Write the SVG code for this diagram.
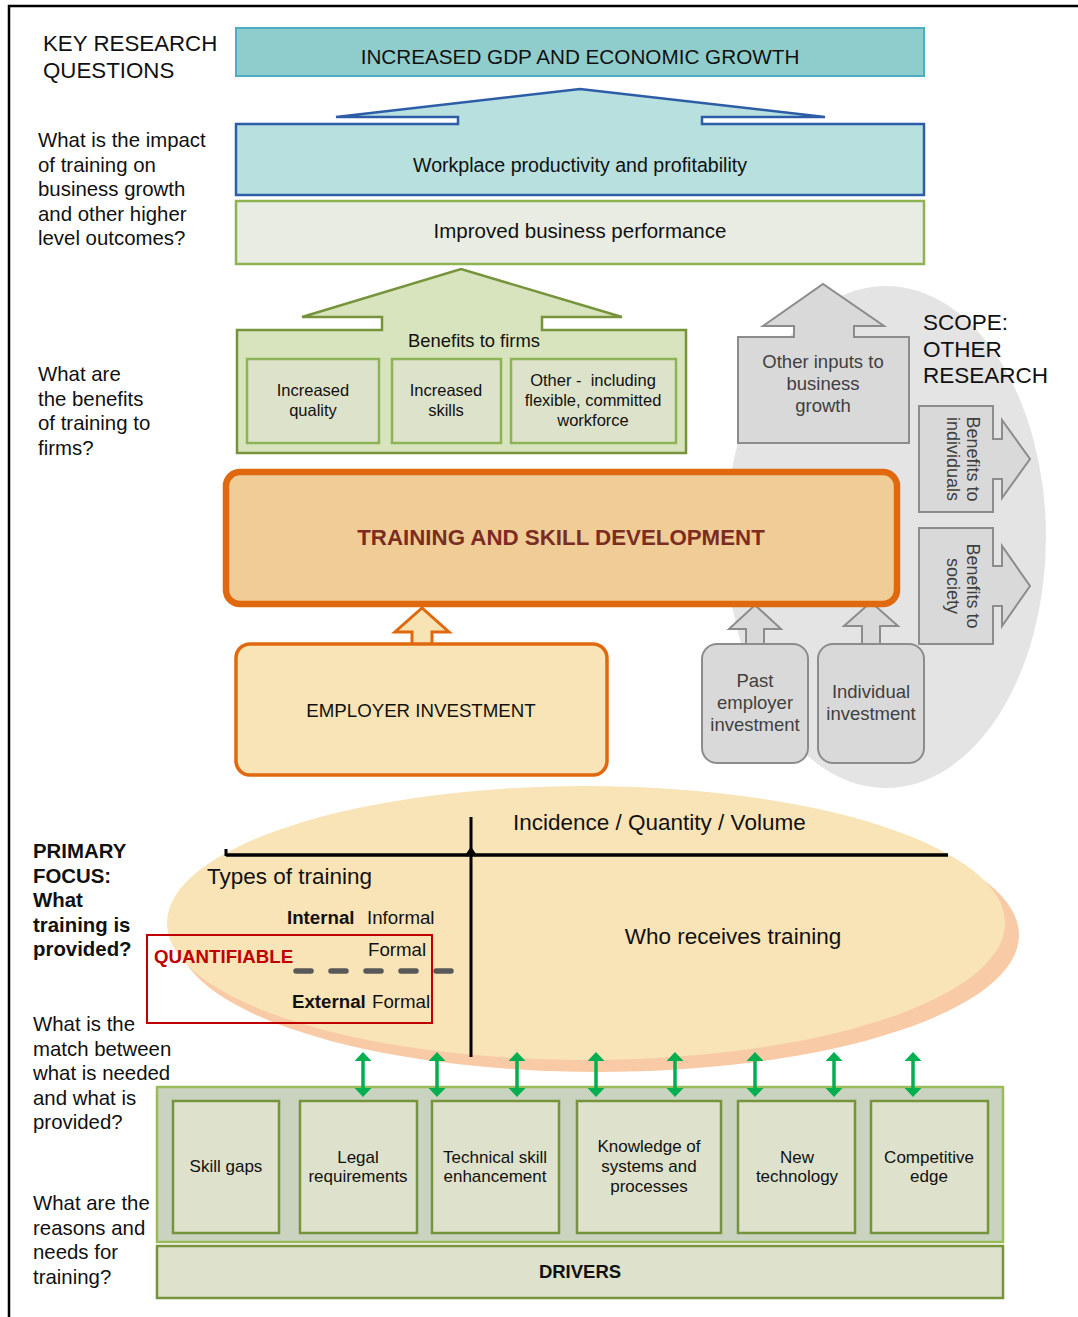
<svg xmlns="http://www.w3.org/2000/svg" width="1078" height="1317" viewBox="0 0 1078 1317">
  <defs>
    <style>
      text { font-family: "Liberation Sans", Arial, Helvetica, sans-serif; fill: #111; }
      .c { text-anchor: middle; }
      .b { font-weight: bold; }
      .q { font-size: 20.4px; }
      .h22 { font-size: 22.5px; }
      .t18 { font-size: 18.5px; }
      .t17 { font-size: 17px; }
      .t16 { font-size: 16.5px; }
      .t187 { font-size: 18.7px; }
      .gtxt { fill: #404040; }
      .greyShape { fill: #D9D9D9; stroke: #8C8C8C; stroke-width: 2; stroke-linejoin: miter; }
      .benefitBox { fill: #DDE2CB; stroke: #8DB356; stroke-width: 2.5; }
      .driverBox { fill: #DEE2CC; stroke: #77933C; stroke-width: 2.5; }
      .link { stroke: #00B050; stroke-width: 3.5; fill: none; marker-start: url(#greenHead); marker-end: url(#greenHead); }
    </style>
    <marker id="greenHead" viewBox="0 0 9 17" refX="0" refY="8.5" markerWidth="9" markerHeight="17" markerUnits="userSpaceOnUse" orient="auto-start-reverse">
      <path d="M0,0 L9,8.5 L0,17 Z" fill="#00B050"/>
    </marker>
  </defs>

  <rect x="0" y="0" width="1078" height="1317" fill="#FFFFFF"/>
  <!-- frame lines -->
  <path d="M9,1317 V6 H1078" fill="none" stroke="#000" stroke-width="2.5"/>

  <!-- left column: key research questions -->
  <g id="questions">
    <text x="43" y="51" style="font-size:22.3px">KEY RESEARCH</text>
    <text x="43" y="78" style="font-size:22.3px">QUESTIONS</text>
    <text class="q" x="38" y="147">What is the impact</text>
    <text class="q" x="38" y="171.5">of training on</text>
    <text class="q" x="38" y="196">business growth</text>
    <text class="q" x="38" y="220.5">and other higher</text>
    <text class="q" x="38" y="245">level outcomes?</text>
    <text class="q" x="38" y="381">What are</text>
    <text class="q" x="38" y="405.5">the benefits</text>
    <text class="q" x="38" y="430">of training to</text>
    <text class="q" x="38" y="454.5">firms?</text>
    <text class="q b" x="33" y="858">PRIMARY</text>
    <text class="q b" x="33" y="882.5">FOCUS:</text>
    <text class="q b" x="33" y="907">What</text>
    <text class="q b" x="33" y="931.5">training is</text>
    <text class="q b" x="33" y="956">provided?</text>
    <text class="q" x="33" y="1031">What is the</text>
    <text class="q" x="33" y="1055.5">match between</text>
    <text class="q" x="33" y="1080">what is needed</text>
    <text class="q" x="33" y="1104.5">and what is</text>
    <text class="q" x="33" y="1129">provided?</text>
    <text class="q" x="33" y="1210">What are the</text>
    <text class="q" x="33" y="1234.5">reasons and</text>
    <text class="q" x="33" y="1259">needs for</text>
    <text class="q" x="33" y="1283.5">training?</text>
  </g>

  <!-- outcome stack -->
  <g id="gdp">
    <rect x="236" y="28" width="688" height="48" fill="#8FCDCC" stroke="#4BACC6" stroke-width="2"/>
    <text class="c" x="580" y="64" style="font-size:20.7px">INCREASED GDP AND ECONOMIC GROWTH</text>
  </g>
  <g id="productivity">
    <path d="M236,124 H458 V117 H336 L580,89 L825,117 H702 V124 H924 V195 H236 Z" fill="#B7E0DF" stroke="#2E5DA8" stroke-width="2.5"/>
    <text class="c" x="580" y="172" style="font-size:19.6px">Workplace productivity and profitability</text>
  </g>
  <g id="performance">
    <rect x="236" y="201" width="688" height="63" fill="#E9ECE2" stroke="#8DB354" stroke-width="2.5"/>
    <text class="c" x="580" y="238" style="font-size:20.5px">Improved business performance</text>
  </g>

  <!-- benefits to firms -->
  <g id="benefits-firms">
    <path d="M237,330 H382 V317 H302 L461,269 L622,317 H542 V330 H686 V453 H237 Z" fill="#D7E4BD" stroke="#77933C" stroke-width="2.5"/>
    <text class="c" x="474" y="347" style="font-size:18.4px">Benefits to firms</text>
  </g>
  <g id="benefit-quality">
    <rect class="benefitBox" x="247" y="359" width="132" height="84"/>
    <text class="c t16" x="313" y="396">Increased</text>
    <text class="c t16" x="313" y="416">quality</text>
  </g>
  <g id="benefit-skills">
    <rect class="benefitBox" x="392" y="359" width="109" height="84"/>
    <text class="c t16" x="446" y="396">Increased</text>
    <text class="c t16" x="446" y="416">skills</text>
  </g>
  <g id="benefit-other">
    <rect class="benefitBox" x="511" y="359" width="165" height="84"/>
    <text class="c t16" x="593" y="386">Other - &#160;including</text>
    <text class="c t16" x="593" y="406">flexible, committed</text>
    <text class="c t16" x="593" y="426">workforce</text>
  </g>

  <!-- scope: other research -->
  <g id="scope">
    <ellipse cx="886" cy="537" rx="160" ry="251" fill="#E4E4E4"/>
    <text class="h22" x="923" y="330">SCOPE:</text>
    <text class="h22" x="923" y="357">OTHER</text>
    <text class="h22" x="923" y="383">RESEARCH</text>
  </g>
  <g id="other-inputs">
    <path class="greyShape" d="M738,337 H794 V326 H763 L823,284 L884,326 H854 V337 H909 V443 H738 Z"/>
    <text class="c t18 gtxt" x="823" y="368">Other inputs to</text>
    <text class="c t18 gtxt" x="823" y="390">business</text>
    <text class="c t18 gtxt" x="823" y="412">growth</text>
  </g>
  <g id="benefits-individuals">
    <path class="greyShape" d="M919,406 H993 V439 H1002 V420 L1030,459 L1002,498 V479 H993 V512 H919 Z"/>
    <g transform="translate(961,459) rotate(90)">
      <text class="c gtxt" x="0" y="-6" style="font-size:18px">Benefits to</text>
      <text class="c gtxt" x="0" y="14" style="font-size:18px">individuals</text>
    </g>
  </g>
  <g id="benefits-society">
    <path class="greyShape" d="M919,528 H993 V566 H1002 V546 L1030,586 L1002,626 V606 H993 V644 H919 Z"/>
    <g transform="translate(961,586) rotate(90)">
      <text class="c gtxt" x="0" y="-6" style="font-size:18px">Benefits to</text>
      <text class="c gtxt" x="0" y="14" style="font-size:18px">society</text>
    </g>
  </g>

  <!-- inputs feeding training -->
  <g id="input-arrows">
    <path class="greyShape" d="M746,645 V629 H729 L755,605 L781,629 H764 V645 Z"/>
    <path class="greyShape" d="M862,645 V626 H844 L871,602 L898,626 H880 V645 Z"/>
    <path d="M412,645 V632 H395 L422,608 L449,632 H432 V645 Z" fill="#F8E3B5" stroke="#E0690F" stroke-width="3"/>
  </g>

  <g id="training">
    <rect x="226" y="472" width="671" height="132" rx="14" fill="#F0CD96" stroke="#E0690F" stroke-width="6.5"/>
    <text class="c b" x="561" y="545" style="font-size:22.3px; fill:#7B2C23">TRAINING AND SKILL DEVELOPMENT</text>
  </g>
  <g id="employer-investment">
    <rect x="236" y="644" width="371" height="131" rx="14" fill="#F8E4B6" stroke="#E0690F" stroke-width="3.5"/>
    <text class="c" x="421" y="717" style="font-size:18.7px">EMPLOYER INVESTMENT</text>
  </g>
  <g id="past-investment">
    <rect class="greyShape" x="702" y="644" width="106" height="119" rx="15"/>
    <text class="c t18 gtxt" x="755" y="687">Past</text>
    <text class="c t18 gtxt" x="755" y="709">employer</text>
    <text class="c t18 gtxt" x="755" y="731">investment</text>
  </g>
  <g id="individual-investment">
    <rect class="greyShape" x="818" y="644" width="106" height="119" rx="15"/>
    <text class="c t18 gtxt" x="871" y="698">Individual</text>
    <text class="c t18 gtxt" x="871" y="720">investment</text>
  </g>

  <!-- primary focus: what training is provided -->
  <g id="primary-focus">
    <ellipse cx="598" cy="935" rx="421" ry="137" fill="#F8CBA6"/>
    <ellipse cx="586" cy="923" rx="419" ry="137" fill="#F8E4B7"/>
    <path d="M226,855 H948" stroke="#000" stroke-width="3.5" fill="none"/>
    <path d="M226,849 V856" stroke="#000" stroke-width="3" fill="none"/>
    <path d="M471,817 V1057" stroke="#000" stroke-width="3" fill="none"/>
    <path d="M466,856 L471,849 L476,856" stroke="#000" stroke-width="2.5" fill="none"/>
    <text class="h22" x="513" y="830">Incidence / Quantity / Volume</text>
    <text class="h22" x="207" y="884">Types of training</text>
    <text class="c h22" x="733" y="944">Who receives training</text>
    <text class="b t187" x="287" y="924">Internal</text>
    <text class="t187" x="367" y="924">Informal</text>
    <text class="t187" x="368" y="956">Formal</text>
    <text class="b t187" x="292" y="1008">External</text>
    <text class="t187" x="372" y="1008">Formal</text>
    <path d="M296,971 H454" stroke="#595959" stroke-width="5.5" stroke-linecap="round" stroke-dasharray="15 20" fill="none"/>
  </g>
  <g id="quantifiable">
    <rect x="147" y="935" width="285" height="88" fill="none" stroke="#C00000" stroke-width="2"/>
    <text class="b" x="154" y="963" style="font-size:18.7px; fill:#C00000">QUANTIFIABLE</text>
  </g>

  <!-- drivers -->
  <g id="drivers-panel">
    <rect x="157" y="1087" width="846" height="155" fill="#C9D3C0" stroke="#9BBB59" stroke-width="2.5"/>
  </g>
  <g id="driver-skill-gaps">
    <rect class="driverBox" x="173" y="1101" width="106" height="132"/>
    <text class="c t17" x="226" y="1172">Skill gaps</text>
  </g>
  <g id="driver-legal">
    <rect class="driverBox" x="300" y="1101" width="117" height="132"/>
    <text class="c t17" x="358" y="1163">Legal</text>
    <text class="c t17" x="358" y="1182">requirements</text>
  </g>
  <g id="driver-technical">
    <rect class="driverBox" x="432" y="1101" width="127" height="132"/>
    <text class="c t17" x="495" y="1163">Technical skill</text>
    <text class="c t17" x="495" y="1182">enhancement</text>
  </g>
  <g id="driver-knowledge">
    <rect class="driverBox" x="577" y="1101" width="144" height="132"/>
    <text class="c t17" x="649" y="1152">Knowledge of</text>
    <text class="c t17" x="649" y="1172">systems and</text>
    <text class="c t17" x="649" y="1192">processes</text>
  </g>
  <g id="driver-technology">
    <rect class="driverBox" x="738" y="1101" width="117" height="132"/>
    <text class="c t17" x="797" y="1163">New</text>
    <text class="c t17" x="797" y="1182">technology</text>
  </g>
  <g id="driver-competitive">
    <rect class="driverBox" x="871" y="1101" width="117" height="132"/>
    <text class="c t17" x="929" y="1163">Competitive</text>
    <text class="c t17" x="929" y="1182">edge</text>
  </g>
  <g id="drivers">
    <rect class="driverBox" x="157" y="1246" width="846" height="52"/>
    <text class="c b" x="580" y="1278" style="font-size:18.5px">DRIVERS</text>
  </g>

  <!-- two-way links between drivers and training provided -->
  <g id="connectors">
    <path class="link" d="M363,1061 V1088"/>
    <path class="link" d="M437,1061 V1088"/>
    <path class="link" d="M517,1061 V1088"/>
    <path class="link" d="M596,1061 V1088"/>
    <path class="link" d="M675,1061 V1088"/>
    <path class="link" d="M755,1061 V1088"/>
    <path class="link" d="M834,1061 V1088"/>
    <path class="link" d="M913,1061 V1088"/>
  </g>
</svg>
